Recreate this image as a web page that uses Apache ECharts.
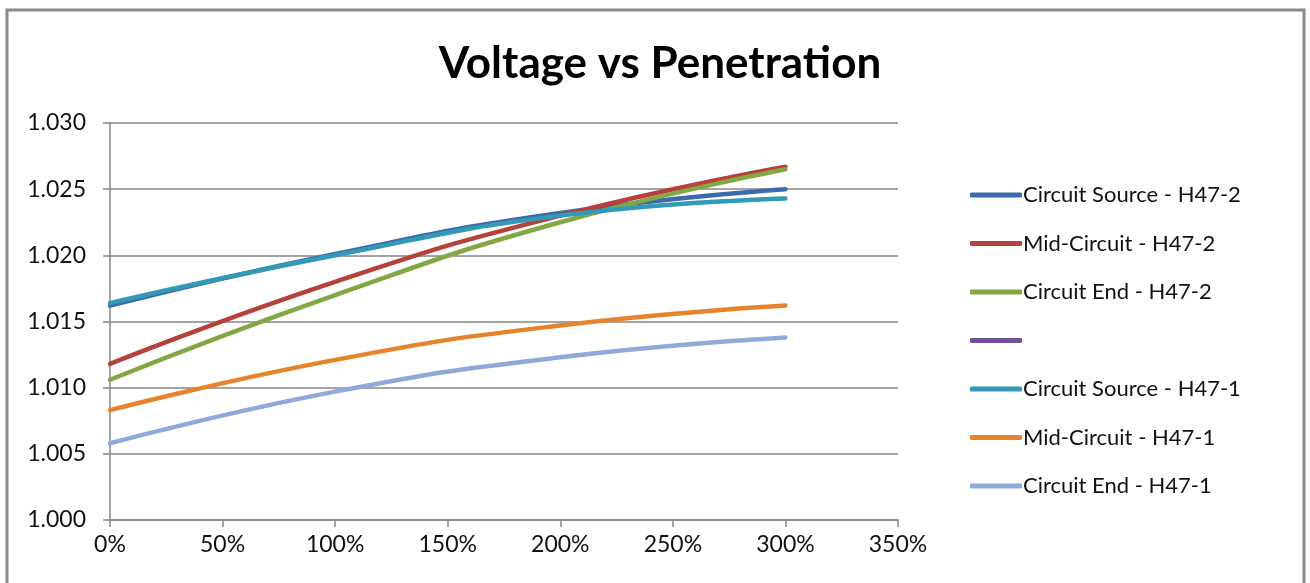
<!DOCTYPE html>
<html>
<head>
<meta charset="utf-8">
<script src="https://cdn.jsdelivr.net/npm/echarts@6/dist/echarts.min.js"></script>
<style>
    html, body { margin: 0; padding: 0; background: #fff; }
    #chart { width: 1310px; height: 583px; }
</style>
</head>
<body>
<div id="chart"></div>
<script>
// penetration (%) and the voltage read at each point
var penetration = [0, 100, 200, 300];
var sourceH472 = [1.0162, 1.0201, 1.0232, 1.0250];
var midH472    = [1.0118, 1.0180, 1.0230, 1.0267];
var endH472    = [1.0106, 1.0170, 1.0225, 1.0265];
var blankSeries = [];
var sourceH471 = [1.0164, 1.0200, 1.0230, 1.0243];
var midH471    = [1.0083, 1.0121, 1.0147, 1.0162];
var endH471    = [1.0058, 1.0097, 1.0123, 1.0138];

var names = ['Circuit Source - H47-2', 'Mid-Circuit - H47-2', 'Circuit End - H47-2', ' ',
             'Circuit Source - H47-1', 'Mid-Circuit - H47-1', 'Circuit End - H47-1'];
var values = [sourceH472, midH472, endH472, blankSeries, sourceH471, midH471, endH471];

function pairs(arr) {
    return arr.map(function (v, i) { return [penetration[i], v]; });
}

var myChart = echarts.init(document.getElementById('chart'));
var font = 'Lato, "Open Sans", sans-serif';

var series = [];
for (var i = 0; i < names.length; i++) {
    series.push({
        name: names[i],
        type: 'line',
        smooth: true,
        showSymbol: false,
        symbol: 'none',
        lineStyle: { width: 4.5, cap: 'round' },
        data: pairs(values[i])
    });
}

var option = {
    animation: false,
    color: ['#3C6BAA', '#B5403C', '#83A843', '#71519A', '#3399B6', '#E6842E', '#8FAAD8'],
    title: {
        text: 'Voltage vs Penetration',
        left: 655,
        textAlign: 'center',
        top: 37,
        textStyle: { fontFamily: font, fontSize: 44, fontWeight: 'bold', color: '#000' }
    },
    graphic: [{
        type: 'rect',
        shape: { x: 7, y: 10, width: 1297, height: 600 },
        style: { fill: 'none', stroke: '#8a8a8a', lineWidth: 3 }
    }],
    legend: {
        orient: 'vertical',
        left: 970,
        top: 182,
        padding: 0,
        itemWidth: 52,
        itemHeight: 5,
        itemGap: 22.5,
        icon: 'roundRect',
        data: names,
        textStyle: { fontFamily: font, fontSize: 22, color: '#111', lineHeight: 26, padding: [0, 0, 0, -4] }
    },
    grid: { left: 110, right: 412, top: 123, bottom: 63 },
    xAxis: {
        type: 'value',
        min: 0,
        max: 350,
        interval: 50,
        splitLine: { show: false },
        axisLine: { lineStyle: { color: '#868686', width: 1.5 } },
        axisTick: { show: true, length: 7, lineStyle: { color: '#868686', width: 1.5 } },
        axisLabel: { margin: 13, fontFamily: font, fontSize: 23, color: '#111', formatter: '{value}%' }
    },
    yAxis: {
        type: 'value',
        min: 1.000,
        max: 1.030,
        interval: 0.005,
        splitLine: { lineStyle: { color: '#868686', width: 1.5 } },
        axisLine: { show: true, lineStyle: { color: '#868686', width: 1.5 } },
        axisTick: { show: true, length: 7, lineStyle: { color: '#868686', width: 1.5 } },
        axisLabel: {
            margin: 24, fontFamily: font, fontSize: 23, color: '#111',
            formatter: function (v) { return v.toFixed(3); }
        }
    },
    series: series
};
myChart.setOption(option);
</script>
</body>
</html>
